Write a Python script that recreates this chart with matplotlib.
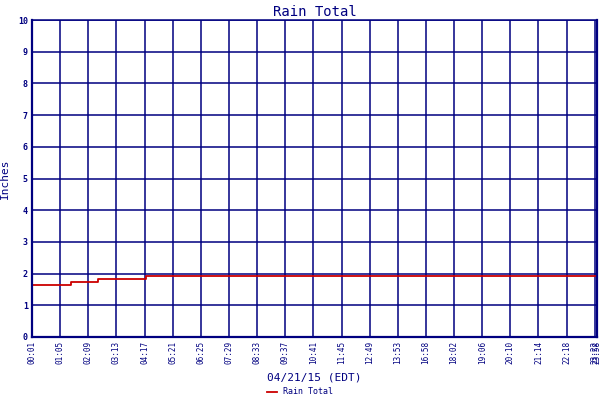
import matplotlib
matplotlib.use("Agg")
import matplotlib.pyplot as plt

# tick labels along the x axis (one per category slot)
tick_labels = ["00:01", "01:05", "02:09", "03:13", "04:17", "05:21", "06:25",
               "07:29", "08:33", "09:37", "10:41", "11:45", "12:49", "13:53",
               "16:58", "18:02", "19:06", "20:10", "21:14", "22:18", "23:22"]
end_label = "23:58"

# rain total series, positions in tick slots
rain_x = [0, 1.37, 2.33, 4.04, 20.08]
rain_y = [1.64, 1.74, 1.83, 1.93, 1.93]

navy = "#000080"
red = "#cc0000"
mono = "DejaVu Sans Mono"

fig = plt.figure(figsize=(6, 4), dpi=100)
ax = fig.add_axes([32/600, 63/400, 565/600, 317/400])

ax.plot(rain_x, rain_y, color=red, lw=1.3, drawstyle="steps-post", label="Rain Total")

ax.set_xlim(0, 20.08)
ax.set_ylim(0, 10)
ticks = list(range(len(tick_labels))) + [20.08]
ax.set_xticks(ticks)
ax.set_xticklabels(tick_labels + [end_label], rotation=90, fontsize=5.5,
                   family=mono, color=navy)
ax.set_yticks(range(11))
ax.set_yticklabels([str(i) for i in range(11)], fontsize=6, family=mono,
                   color=navy, fontweight="bold")
ax.tick_params(length=0, pad=3)
ax.grid(True, color=navy, lw=1.1)
ax.set_axisbelow(True)
for s in ["left", "bottom", "right"]:
    ax.spines[s].set_color(navy)
    ax.spines[s].set_linewidth(1.6)
ax.spines["top"].set_color(navy)
ax.spines["top"].set_linewidth(1.1)

ax.set_title("Rain Total", fontsize=10, family=mono, color=navy, pad=3)
ax.set_ylabel("Inches", fontsize=8, family=mono, color=navy, labelpad=6)
ax.set_xlabel("04/21/15 (EDT)", fontsize=8, family=mono, color=navy, labelpad=6)

fig.legend(loc="lower center", bbox_to_anchor=(0.5, -0.01), frameon=False,
           prop={"family": mono, "size": 6}, handlelength=1.2,
           labelcolor=navy)

fig.savefig("out.png", dpi=100)
